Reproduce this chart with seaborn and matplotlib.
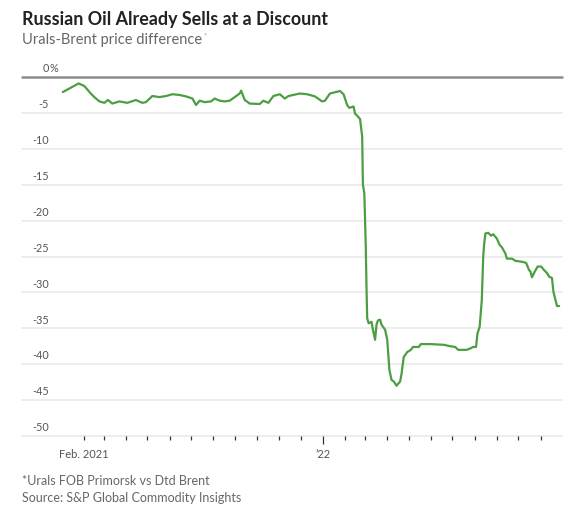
import pandas as pd
import numpy as np
import matplotlib
matplotlib.use("Agg")
import matplotlib.pyplot as plt
import matplotlib.dates as mdates
import seaborn as sns

# Urals-Brent price difference, %
dates = [
    "2021-01-03", "2021-01-25", "2021-02-02", "2021-02-11", "2021-02-16", "2021-02-23",
    "2021-03-02", "2021-03-07", "2021-03-13", "2021-03-23", "2021-04-03", "2021-04-15",
    "2021-04-24", "2021-04-29", "2021-05-08", "2021-05-18", "2021-05-27", "2021-06-05",
    "2021-06-15", "2021-06-24", "2021-07-03", "2021-07-08", "2021-07-13", "2021-07-20",
    "2021-07-29", "2021-08-03", "2021-08-10", "2021-08-17", "2021-08-24", "2021-08-31",
    "2021-09-07", "2021-09-09", "2021-09-14", "2021-09-21", "2021-10-05", "2021-10-10",
    "2021-10-17", "2021-10-24", "2021-11-02", "2021-11-09", "2021-11-14", "2021-11-30",
    "2021-12-10", "2021-12-21", "2021-12-31", "2022-01-04", "2022-01-11", "2022-01-25",
    "2022-01-30", "2022-02-04", "2022-02-07", "2022-02-13", "2022-02-15", "2022-02-19",
    "2022-02-22", "2022-02-25", "2022-02-26", "2022-02-28", "2022-03-02", "2022-03-03",
    "2022-03-04", "2022-03-06", "2022-03-10", "2022-03-12", "2022-03-15", "2022-03-17",
    "2022-03-19", "2022-03-22", "2022-03-24", "2022-03-29", "2022-04-01", "2022-04-04",
    "2022-04-07", "2022-04-10", "2022-04-14", "2022-04-19", "2022-04-21", "2022-04-24",
    "2022-04-29", "2022-05-04", "2022-05-07", "2022-05-15", "2022-05-18", "2022-05-31",
    "2022-06-19", "2022-06-28", "2022-07-05", "2022-07-09", "2022-07-21", "2022-07-26",
    "2022-07-30", "2022-08-03", "2022-08-05", "2022-08-08", "2022-08-11", "2022-08-13",
    "2022-08-14", "2022-08-16", "2022-08-20", "2022-08-24", "2022-08-27", "2022-09-01",
    "2022-09-05", "2022-09-08", "2022-09-13", "2022-09-15", "2022-09-22", "2022-09-27",
    "2022-10-04", "2022-10-09", "2022-10-12", "2022-10-16", "2022-10-18", "2022-10-20",
    "2022-10-24", "2022-10-28", "2022-11-02", "2022-11-06", "2022-11-10", "2022-11-13",
    "2022-11-17", "2022-11-19", "2022-11-22", "2022-11-24", "2022-11-27",
]
diff_pct = [
    -2.1, -0.9, -1.25, -2.3, -2.8, -3.4,
    -3.6, -3.2, -3.7, -3.4, -3.6, -3.2,
    -3.6, -3.5, -2.65, -2.8, -2.65, -2.4,
    -2.5, -2.7, -3.0, -3.9, -3.3, -3.5,
    -3.4, -3.0, -3.3, -3.4, -3.3, -2.8,
    -2.3, -1.9, -3.2, -3.7, -3.76, -3.3,
    -3.6, -2.65, -2.4, -3.0, -2.65, -2.3,
    -2.4, -2.7, -3.4, -3.3, -2.3, -1.95,
    -2.4, -3.9, -4.3, -4.1, -5.1, -5.5,
    -5.85, -8.3, -15.0, -16.2, -23.6, -29.2,
    -33.6, -34.3, -34.1, -35.2, -36.6, -34.5,
    -33.9, -33.8, -34.5, -35.2, -36.6, -40.8,
    -42.2, -42.4, -43.0, -42.4, -41.3, -39.0,
    -38.3, -38.0, -37.6, -37.6, -37.2, -37.2,
    -37.3, -37.5, -37.6, -38.0, -38.0, -37.8,
    -37.6, -37.6, -35.7, -34.8, -31.1, -25.0,
    -23.6, -21.8, -21.7, -22.1, -21.9, -22.5,
    -23.4, -23.7, -24.6, -25.3, -25.3, -25.6,
    -25.7, -25.8, -25.9, -26.9, -27.1, -27.9,
    -27.1, -26.4, -26.4, -26.9, -27.3, -27.8,
    -28.0, -29.9, -31.1, -31.9, -31.9,
]

y_ticks = [0, -5, -10, -15, -20, -25, -30, -35, -40, -45, -50]
x_labels = {"2021-02-01": "Feb. 2021", "2022-01-01": "\u201922"}

title = "Russian Oil Already Sells at a Discount"
subtitle = "Urals-Brent price difference"
note = "*Urals FOB Primorsk vs Dtd Brent"
source = "Source: S&P Global Commodity Insights"

df = pd.DataFrame({"date": pd.to_datetime(dates), "diff": diff_pct})

sns.set_style("white")
plt.rcParams["font.family"] = ["Lato", "DejaVu Sans"]

W, H = 574, 516
fig = plt.figure(figsize=(W / 100, H / 100), dpi=100)
ax = fig.add_axes([22 / W, 1 - 436 / H, 540 / W, (436 - 77) / H])

sns.lineplot(data=df, x="date", y="diff", ax=ax, color="#4c9e42", linewidth=1.6)

ax.set_ylim(-50, 0)
ax.set_xlim(pd.Timestamp("2020-11-07"), pd.Timestamp("2022-12-01"))
for s in ax.spines.values():
    s.set_visible(False)

# gridlines and value labels
for v in y_ticks:
    if v == 0:
        ax.axhline(v, color="#8c8c8c", lw=1.8, zorder=1, clip_on=False)
    else:
        ax.axhline(v, color="#ececec", lw=1.3, zorder=0, clip_on=False)
    ax.annotate(str(v), xy=(0.05, v), xycoords=ax.get_yaxis_transform(),
                xytext=(0, 2), textcoords="offset points",
                ha="right", va="bottom", fontsize=7.8, color="#555555")
ax.annotate("%", xy=(0.05, 0), xycoords=ax.get_yaxis_transform(),
            xytext=(0, 2), textcoords="offset points",
            ha="left", va="bottom", fontsize=7.8, color="#555555")

ax.set_yticks([])
ax.set_ylabel("")
ax.set_xlabel("")

# monthly ticks, labels only on two of them
months = pd.date_range("2021-02-01", "2022-11-01", freq="MS")
ax.set_xticks(months)
ax.set_xticklabels([x_labels.get(m.strftime("%Y-%m-%d"), "") for m in months])
ax.tick_params(axis="x", direction="out", length=3, width=0.9, color="#333333",
               labelsize=8, labelcolor="#555555", pad=6, bottom=True)
for m, t in zip(months, ax.xaxis.get_major_ticks()):
    if m.month == 1:
        t.tick1line.set_markersize(6)

fig.text(22 / W, 1 - 19 / H, title, fontsize=12.9, fontweight="bold",
         color="#222222", va="center", ha="left")
st = fig.text(22 / W, 1 - 40 / H, subtitle, fontsize=10.5, color="#666666",
              va="center", ha="left")
fig.text(22 / W, 1 - 481 / H, note, fontsize=9, color="#666666", va="center", ha="left")
fig.text(22 / W, 1 - 498 / H, source, fontsize=9, color="#666666", va="center", ha="left")

fig.canvas.draw()
bb = st.get_window_extent()
fig.text((bb.x1 + 1) / W, (bb.y1 - 3) / H, "*", fontsize=5, color="#999999",
         va="center", ha="left")

fig.savefig("out.png", dpi=100)
